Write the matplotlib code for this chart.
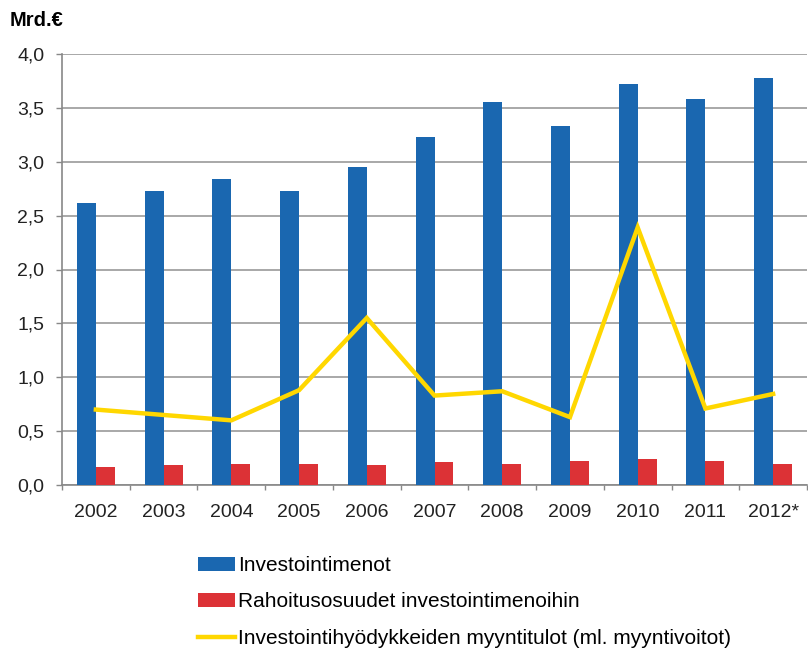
import matplotlib.pyplot as plt
import numpy as np

years = ['2002', '2003', '2004', '2005', '2006', '2007', '2008', '2009', '2010', '2011', '2012*']
investoinnit = [2.62, 2.73, 2.84, 2.73, 2.95, 3.23, 3.55, 3.33, 3.72, 3.58, 3.78]
rahoitus = [0.17, 0.19, 0.195, 0.195, 0.185, 0.21, 0.195, 0.225, 0.24, 0.225, 0.195]
myyntitulot = [0.70, 0.65, 0.60, 0.88, 1.55, 0.83, 0.87, 0.63, 2.39, 0.71, 0.845]

labels = ['Investointimenot', 'Rahoitusosuudet investointimenoihin',
          'Investointihyödykkeiden myyntitulot (ml. myyntivoitot)']

plt.rcParams['font.family'] = ['Liberation Sans', 'DejaVu Sans']

fig = plt.figure(figsize=(8.08, 6.49), dpi=100)
ax = fig.add_axes([62 / 808, 1 - 485 / 649, 745 / 808, 431 / 649])

x = np.arange(len(years))
w = 0.28
b1 = ax.bar(x - w / 2, investoinnit, width=w, color='#1a67b0', zorder=3)
b2 = ax.bar(x + w / 2, rahoitus, width=w, color='#dc3236', zorder=3)
l1, = ax.plot(x, myyntitulot, color='#ffd700', lw=3.2, zorder=4, solid_joinstyle='miter')

ax.set_xlim(-0.5, len(years) - 0.5)
ax.set_ylim(0, 4.0)
ax.set_yticks(np.arange(0, 4.01, 0.5))
ax.set_yticklabels([f'{v:.1f}'.replace('.', ',') for v in np.arange(0, 4.01, 0.5)],
                   fontsize=14, color='#222222')
ax.set_xticks(x)
ax.set_xticklabels(years, fontsize=14, color='#222222')
ax.tick_params(axis='x', length=0, pad=14)
ax.set_xticks(np.arange(-0.5, len(years), 1), minor=True)
ax.tick_params(axis='x', which='minor', length=3.6, color='#888888', width=1)
ax.tick_params(axis='y', length=4.3, color='#888888', width=1, pad=8.5)

ax.yaxis.grid(True, color='#999999', lw=1.2, zorder=0)
for s in ['top', 'right']:
    ax.spines[s].set_visible(False)
for s in ['left', 'bottom']:
    ax.spines[s].set_color('#888888')
    ax.spines[s].set_linewidth(1.2)

fig.text(10 / 808, 1 - 20 / 649, 'Mrd.€', fontsize=14.5, fontweight='bold', va='center')

fig.legend([b1, b2, l1], labels, loc='upper left', bbox_to_anchor=(190 / 808, 1 - 548 / 649),
           frameon=False, fontsize=15, handlelength=1.75, handleheight=0.6,
           handletextpad=0.15, labelspacing=0.82, borderaxespad=0)

fig.savefig('out.png', dpi=100)
